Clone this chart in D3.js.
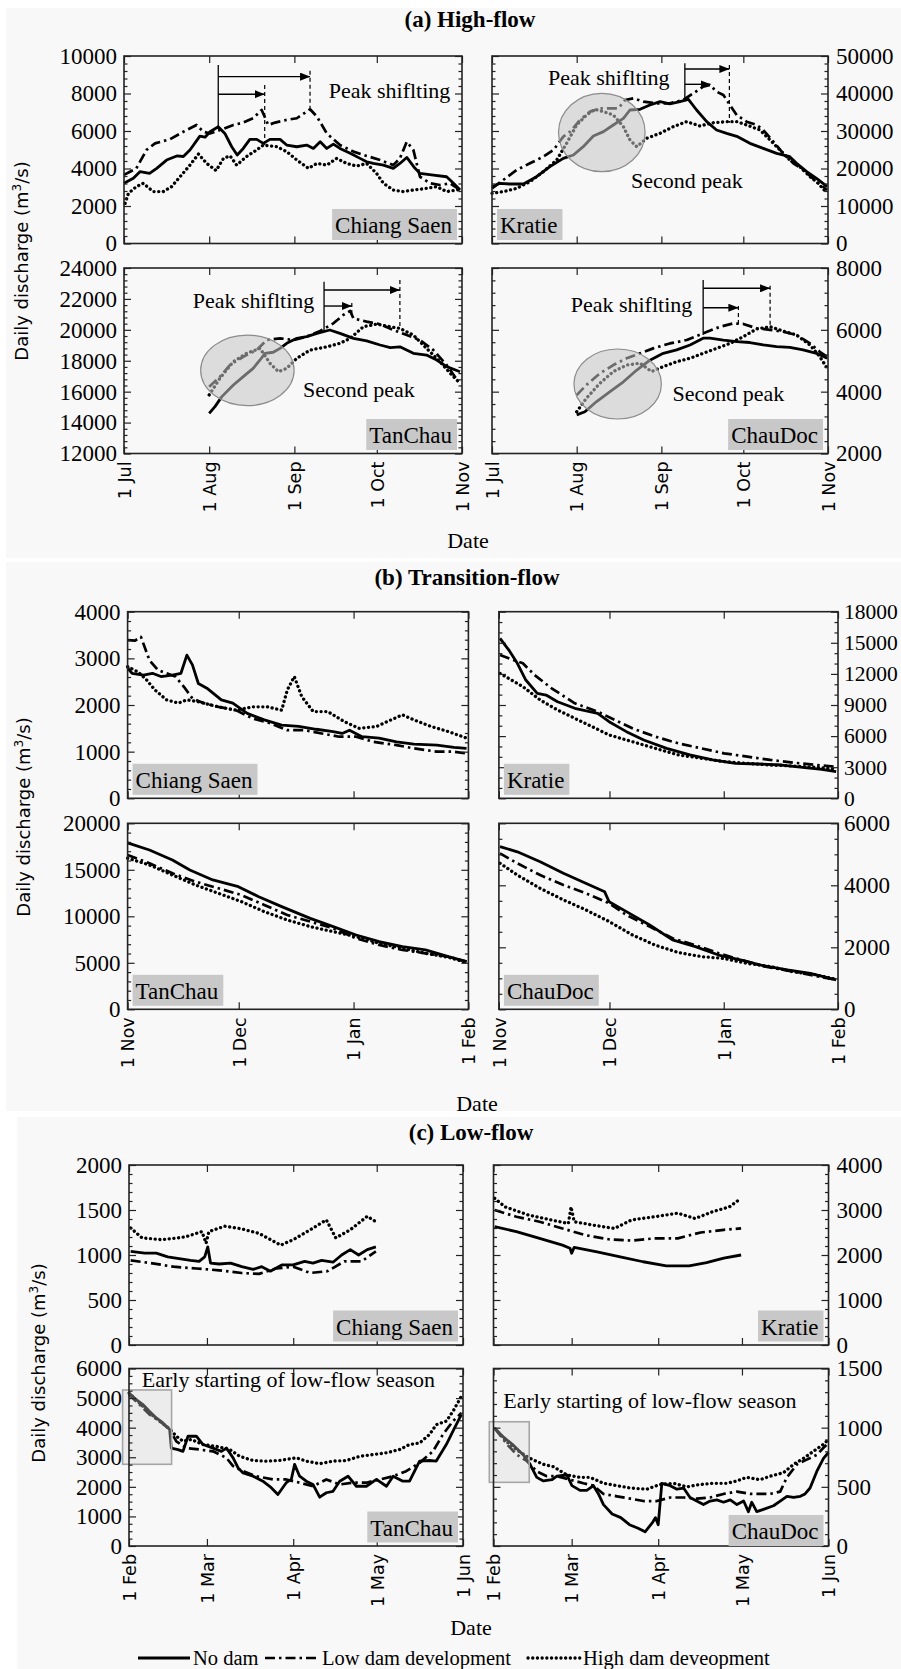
<!DOCTYPE html>
<html>
<head>
<meta charset="utf-8">
<script src="https://cdn.jsdelivr.net/npm/d3@7"></script>
<style>
  body { margin: 0; background: #fff; }
  svg { display: block; }
</style>
</head>
<body>
<svg id="chart" width="901" height="1669"></svg>
<script>
// ---- data (day offset from season start, discharge m3/s) ----
const stations = ["Chiang Saen", "Kratie", "TanChau", "ChauDoc"];
const seriesNames = ["No dam", "Low dam development", "High dam deveopment"];
const seasonTitles = ["(a) High-flow", "(b) Transition-flow", "(c) Low-flow"];

// (a) high-flow, 1 Jul - 1 Nov
const hiChiangNo = [[0,3210],[3.4,3475],[5.8,3830],[9.3,3740],[11.9,4010],[15.5,4450],[19.2,4670],[21.6,4640],[24,4990],[27.6,5730],[29.5,5670],[31.3,5960],[34.3,6230],[36.7,5870],[39.2,5160],[41.2,4720],[43.4,5070],[45.8,5555],[48.3,5555],[50.7,5340],[53.1,5555],[56.8,5555],[59.2,5250],[62.9,5160],[66.5,5250],[68.9,5070],[71.4,5430],[73.8,5070],[76.2,5300],[78.6,5070],[82.3,4810],[85.9,4540],[88.3,4360],[90.7,4270],[94.4,4180],[98,4010],[100.4,4270],[102.9,4590],[105.9,4010],[107.7,3740],[112.6,3650],[117.4,3560],[119.9,3210],[122.3,2850]];
const hiChiangLow = [[0,3660],[4.5,4010],[8.2,4990],[11.3,5340],[16.7,5560],[21.6,5960],[26.4,6320],[28.9,5960],[31.3,5870],[34.9,6050],[39.8,6320],[43.4,6450],[47,6680],[50.1,7120],[52.5,6320],[55,6450],[59.2,6590],[62.9,6680],[67.7,7160],[70.2,6770],[73.8,5870],[78.6,5250],[83.5,4900],[88.3,4670],[93.2,4450],[98,4180],[100.4,4540],[102.9,5430],[105.3,4990],[107.7,3560],[111.4,3210],[115,3120],[118.7,3210],[122.3,2850]];
const hiChiangHigh = [[0.4,2140],[1.6,2670],[4.5,3030],[7,3210],[10.6,2770],[14.3,2770],[17.3,3030],[20.4,3560],[24,4180],[27.1,4770],[30.1,4270],[33.5,3890],[36.2,4540],[38.6,4670],[41,4180],[44.6,4640],[48.3,4990],[50.7,5250],[55.6,5160],[59.2,4900],[62.9,4450],[67.1,4010],[70.2,4270],[73.8,4180],[77.4,4540],[81,4270],[84.7,4130],[88.3,4270],[91.9,3740],[94.4,3210],[98,2850],[101.6,2770],[105.3,2850],[110.1,2940],[113.8,3030],[117.4,2770],[122.3,2880]];
const hiKratieNo = [[0,15150],[2.9,16050],[6.6,15870],[11.5,15870],[16.3,17820],[21.2,20490],[26.1,22710],[29.8,23600],[33.4,25820],[37.1,28670],[40.8,29830],[44.4,31600],[48.1,33380],[50.5,35600],[54.2,35780],[57.8,36940],[61.5,37830],[65.1,37250],[68.8,37830],[71.9,38450],[74.9,35600],[78.6,32490],[82.2,30270],[85.9,29380],[89.6,28580],[94.4,26710],[99.3,25380],[104.2,24040],[109,23160],[111.5,21380],[115.2,19160],[118.8,17380],[122.7,15150]];
const hiKratieLow = [[0,14700],[4.1,16940],[9,19600],[13.9,21380],[18.8,23160],[22.5,24940],[26.1,28490],[28.6,29830],[32.2,32940],[35.9,35160],[39.5,36050],[43.2,36050],[46.3,36050],[48.7,38270],[51.7,38720],[55.4,37830],[60.3,37380],[65.1,37380],[70,38270],[73.7,40050],[77.3,41830],[79.8,42270],[82.2,40500],[84.7,39610],[87.1,36940],[89.6,34270],[93.2,32490],[96.9,31600],[99.3,30270],[103,27160],[106.6,24040],[110.3,21380],[114,19600],[118.8,16490],[122.7,14270]];
const hiKratieHigh = [[0,13380],[4.1,13820],[9,14710],[13.9,16490],[18.8,19160],[23.7,22270],[27.3,26710],[31,31600],[34.6,34270],[37.7,35780],[40.8,35160],[44.4,34270],[48.1,31160],[50.5,27600],[53,25820],[56.6,28050],[61.5,29380],[66.4,31160],[71.3,32490],[76.1,31340],[81,32200],[85.9,32490],[89.6,32490],[93.2,31600],[98.1,30270],[101.8,27600],[105.4,24940],[109,22270],[112.7,20490],[116.4,17820],[119.4,16050],[122.7,13380]];
const hiTanNo = [[31,14600],[33.1,15030],[35.6,15680],[39.8,16430],[43.4,16970],[47,17510],[49.5,18050],[51.3,18480],[54.3,18550],[56.8,18800],[59.2,19130],[62.9,19450],[66.5,19560],[70.2,19770],[74.9,19990],[78.6,19770],[83.5,19450],[88.3,19280],[93.2,19020],[96.9,18850],[100.4,18900],[105.3,18480],[110.1,18370],[113.8,18050],[117.4,17620],[122.3,17290]];
const hiTanLow = [[31,16320],[34.9,16970],[38.6,17730],[43.4,18260],[48.3,18690],[51.9,19340],[56.8,19450],[61.7,19340],[66.5,19560],[71.4,19930],[76.2,20420],[79.8,20960],[82.3,21220],[83.5,20740],[88.3,20530],[93.2,20370],[98,19990],[102.9,19660],[107.7,19340],[112.6,18690],[117.4,17730],[121.7,16650]];
const hiTanHigh = [[31,15790],[34.9,16870],[39.8,17940],[44.6,18480],[49.5,18800],[53.1,17840],[56.2,17290],[59.2,17510],[62.9,18160],[67.7,18690],[73.8,18900],[78.6,19130],[82.3,19450],[87.1,20200],[92,20370],[96.9,20200],[100.4,20090],[105.3,19660],[110.1,18800],[115,17940],[118.7,17190],[121.7,16650]];
const hiChauNo = [[31,3250],[34,3350],[38.3,3680],[43.2,4000],[48.1,4320],[53,4700],[57.8,5020],[62.7,5240],[67.6,5350],[72.5,5510],[77.3,5730],[79.8,5730],[84.7,5670],[89.6,5620],[94.4,5590],[99.3,5510],[104.2,5460],[109,5430],[113.9,5350],[118.8,5240],[122.7,5080]];
const hiChauLow = [[31,3890],[34.6,4220],[39.5,4590],[44.4,4860],[49.3,5080],[54.2,5240],[59,5400],[65.1,5560],[71.3,5670],[77.3,5890],[83.5,6100],[88.3,6210],[92,6190],[96.9,6050],[101.8,6000],[106.6,5940],[111.5,5830],[116.4,5560],[120,5290],[122.7,5130]];
const hiChauHigh = [[31,3350],[34.6,3790],[39.5,4270],[44.4,4650],[49.3,4860],[54.2,4920],[58.4,4650],[62.7,4810],[67.6,4970],[72.5,5080],[77.3,5240],[82.2,5400],[87.1,5560],[92,5780],[96.9,6030],[101.8,6100],[106.6,5960],[111.5,5830],[116.4,5510],[120,5130],[122.7,4760]];

// (b) transition-flow, 1 Nov - 1 Feb
const trChiangNo = [[0,2790],[1.2,2680],[4.3,2640],[6.7,2680],[9,2610],[12.1,2640],[14.4,2680],[16,3070],[17.5,2860],[19.1,2460],[21.4,2360],[25.3,2110],[28.4,2040],[32.3,1820],[36.9,1680],[41.6,1570],[46.2,1540],[50.9,1480],[55.5,1430],[57.9,1390],[59.9,1460],[63.3,1320],[67.9,1290],[72.6,1210],[77.3,1160],[83.5,1140],[88.1,1090],[91.5,1070]];
const trChiangLow = [[0,3390],[2,3380],[3.6,3460],[5.9,2960],[8.2,2750],[10.5,2680],[12.9,2610],[15.2,2390],[17.5,2140],[20.6,2040],[24.5,1960],[29.2,1890],[33.8,1710],[38.5,1610],[43.1,1460],[47.8,1460],[52.4,1390],[57.1,1320],[61.7,1320],[66.4,1210],[72.6,1140],[77.3,1070],[83.5,1000],[88.1,1000],[91.5,960]];
const trChiangHigh = [[0,2820],[2.8,2710],[5.1,2540],[7.4,2320],[10.5,2110],[13.7,2040],[16,2110],[19.1,2070],[24.5,1960],[29.2,1890],[33.8,1960],[37.7,1960],[41.6,1890],[43.1,2320],[45,2610],[47,2180],[50.1,1860],[54,1860],[58.6,1640],[62.5,1500],[67.2,1540],[71.1,1680],[74.2,1790],[77.3,1680],[81.9,1540],[86.6,1430],[91.5,1290]];
const trKratieNo = [[0.3,15430],[2.7,14300],[5,13020],[7.3,11410],[10.4,10120],[12.8,9960],[15.9,9320],[20.6,8680],[26.8,8200],[29.9,7390],[34.6,6430],[39.3,5620],[45.5,4820],[51.8,4180],[58,3700],[64.2,3370],[70.5,3310],[76.7,3210],[83,2960],[87.6,2800],[91.5,2570]];
const trKratieLow = [[0.3,13820],[3.4,13400],[6.5,13020],[9.7,11890],[14.3,10610],[20.6,9160],[26.8,8360],[31.5,7550],[36.2,6750],[42.4,5950],[48.7,5300],[54.9,4820],[61.1,4340],[67.4,4020],[73.6,3700],[79.8,3440],[86.1,3210],[91.5,3050]];
const trKratieHigh = [[0.3,12050],[3.4,11410],[6.5,10770],[11.2,9480],[15.9,8520],[20.6,7710],[25.3,6910],[29.9,6110],[36.2,5460],[42.4,4820],[48.7,4180],[54.9,3860],[61.1,3540],[67.4,3370],[73.6,3210],[79.8,3120],[86.1,2990],[91.5,2800]];
const trTanNo = [[0,17900],[5.9,17130],[12.1,16060],[16.8,14980],[23,13910],[29.9,13190],[35.4,12110],[41.6,11040],[49.3,9780],[55.5,8890],[61.7,7990],[67.9,7280],[74.2,6740],[80.4,6380],[86.6,5660],[91.5,5130]];
const trTanLow = [[0,16590],[5.9,15700],[12.1,14620],[18.3,13730],[24.5,13010],[30.7,12290],[36.9,11220],[43.1,10140],[49.3,9430],[55.5,8710],[61.7,7630],[67.9,6920],[74.2,6380],[80.4,6020],[86.6,5660],[91.5,5130]];
const trTanHigh = [[0,16240],[5.9,15520],[12.1,14440],[18.3,13370],[24.5,12470],[30.7,11580],[36.9,10500],[43.1,9600],[49.3,8890],[55.5,8350],[61.7,7810],[67.9,7100],[74.2,6560],[80.4,6020],[86.6,5590],[91.5,5020]];
const trChauNo = [[0.3,5250],[5,5080],[11.2,4760],[17.5,4390],[23.7,4060],[28.7,3790],[29.9,3470],[34.6,3150],[40.9,2720],[47.1,2240],[53.3,2020],[59.6,1750],[65.8,1590],[72,1400],[78.3,1270],[84.5,1160],[91.5,950]];
const trChauLow = [[0.3,5030],[5,4710],[11.2,4330],[17.5,4010],[23.7,3740],[29.9,3420],[34.6,3040],[40.9,2670],[47.1,2290],[53.3,2070],[59.6,1810],[65.8,1590],[72,1380],[78.3,1250],[84.5,1110],[91.5,950]];
const trChauHigh = [[0.3,4710],[5,4330],[11.2,3900],[17.5,3530],[23.7,3200],[29.9,2830],[36.2,2400],[42.4,2070],[48.7,1830],[54.9,1700],[61.1,1640],[67.4,1480],[73.6,1380],[79.8,1210],[86.1,1110],[91.5,970]];

// (c) low-flow, 1 Feb - 1 Jun
const loChiangNo = [[0.6,1040],[5.7,1020],[9.8,1020],[13.9,980],[18,960],[22.1,940],[25.2,930],[27.2,980],[28.3,1090],[29.3,910],[32.4,900],[36.5,910],[40.5,870],[44.6,840],[47.7,870],[50.8,820],[54.9,890],[59,890],[63.1,930],[66.1,910],[69.2,940],[73.3,920],[76.4,1000],[79.5,1060],[82.5,1000],[85.6,1060],[88.7,1090]];
const loChiangLow = [[0.6,940],[7.8,910],[16,870],[24.2,850],[32.4,830],[40.5,800],[46.7,790],[52.8,850],[59,870],[65.1,800],[71.3,820],[77.4,930],[83.6,930],[88.7,1040]];
const loChiangHigh = [[0.6,1300],[4.7,1190],[11.9,1170],[20.1,1200],[26.2,1260],[27.7,1130],[28.7,1260],[34.4,1320],[40.5,1290],[46.7,1240],[54.5,1110],[59,1170],[65.1,1280],[70.9,1390],[74.3,1190],[79.5,1280],[85.6,1430],[88.7,1370]];
const loKratieNo = [[0.4,2630],[8.2,2520],[16.5,2370],[24.7,2220],[27.4,2150],[28,2040],[28.9,2170],[37.1,2070],[45.4,1960],[53.6,1850],[61.9,1760],[70.1,1760],[76.3,1830],[82.5,1930],[88.7,2000]];
const loKratieLow = [[0.4,3000],[8.2,2850],[16.5,2740],[24.7,2590],[33,2440],[41.2,2350],[49.5,2320],[57.7,2370],[66,2370],[74.2,2500],[82.5,2560],[88.7,2590]];
const loKratieHigh = [[0.4,3260],[4.1,3070],[12.4,2890],[20.6,2780],[26.8,2700],[27.8,3070],[28.9,2740],[35.1,2670],[43.3,2590],[49.5,2780],[57.7,2850],[66,2930],[72.2,2810],[78.4,2960],[84.5,3070],[88.7,3260]];
const loTanNo = [[0,5170],[2.6,4950],[5,4780],[7.4,4550],[9.8,4330],[12.2,4160],[14.6,3940],[15.2,3310],[17.6,3260],[19.4,3200],[21.2,3710],[24.2,3710],[26.6,3430],[30.2,3310],[33.2,3200],[35,3310],[37.4,2980],[39.2,2640],[41,2470],[44.6,2360],[48.1,2190],[51.1,1970],[53.5,1740],[56.5,2140],[58.3,2250],[59.5,2760],[61.3,2360],[63.7,2190],[66.1,2080],[68.5,1650],[70.9,1800],[73.3,1850],[75.7,2190],[78.7,2360],[81.7,2020],[85.3,2020],[88.9,2250],[92.5,2020],[94.9,2360],[98.4,2190],[100.8,2190],[104.4,2870],[108,2890],[110.4,2870],[114,3430],[116.4,3880],[119.4,4440]];
const loTanLow = [[0,5120],[3.8,4780],[7.4,4440],[11,4220],[14.6,3940],[17,3540],[20.6,3310],[25.4,3260],[30.2,3200],[35,2980],[37.4,2700],[41,2530],[45.7,2360],[51.7,2250],[56.5,2250],[61.3,2140],[66.1,2020],[70.9,2250],[75.7,2080],[80.5,2140],[85.3,2140],[90.1,2250],[94.9,2360],[99.6,2530],[104.4,2810],[109.2,3200],[112.8,3770],[116.4,4220],[119.4,4500]];
const loTanHigh = [[0,5170],[3.8,4830],[7.4,4500],[11,4220],[14.6,3960],[17,3710],[19.4,3540],[22.4,3600],[26.6,3430],[31.4,3370],[36.2,3260],[39.8,3030],[44.6,2890],[49.3,2870],[54.1,2890],[60.1,2980],[63.7,2870],[68.5,2780],[73.3,2870],[78.1,2890],[82.9,3030],[87.7,3090],[92.5,3150],[97.2,3260],[100.8,3430],[104.4,3480],[108,3770],[110.4,4100],[114,4220],[116.4,4550],[119.4,5060]];
const loChauNo = [[0.6,990],[3.6,920],[7.2,850],[10.7,770],[13.1,690],[15.5,580],[17.9,550],[20.9,560],[22.7,590],[26.3,600],[28.1,510],[31,470],[33.4,470],[35.8,510],[37.6,440],[39.4,350],[42.5,270],[45.6,240],[48.7,180],[51.8,150],[54.3,120],[57,200],[58,240],[59,180],[60,450],[60.3,530],[63.3,510],[65.7,480],[68.1,490],[70.4,410],[72.8,380],[75.2,350],[77.6,380],[80,390],[82.4,370],[84.8,390],[87.2,350],[89.6,380],[91.3,290],[92.5,370],[94.3,290],[96.7,310],[100.3,340],[102.7,380],[105.1,420],[107.5,410],[109.9,420],[111.6,440],[113.4,490],[115.8,630],[118.2,740],[120,790]];
const loChauLow = [[0.6,990],[4.8,860],[8.4,770],[11.9,720],[15.5,630],[19.1,590],[22.7,590],[27.5,560],[32.2,530],[35.8,510],[39.4,440],[44.2,420],[49,400],[53.7,380],[58.5,380],[63.3,410],[68.1,410],[72.8,400],[77.6,410],[82.4,440],[87.2,460],[91.9,440],[95.5,440],[99.1,440],[102.7,460],[105.1,580],[108.7,690],[112.2,730],[115.8,770],[118.2,830],[120,870]];
const loChauHigh = [[0.6,990],[4.8,880],[8.4,810],[13.1,740],[17.9,690],[21.5,670],[26.3,600],[31,580],[34.6,580],[39.4,530],[44.2,510],[49,490],[54.9,480],[59.7,520],[64.5,530],[69.3,500],[74,520],[78.8,530],[83.6,530],[87.2,550],[90.7,580],[95.5,560],[99.1,590],[103.9,620],[107.5,690],[111,740],[114.6,800],[118.2,860],[120,900]];

// y tick labels
const ticksHiChiang = [0, 2000, 4000, 6000, 8000, 10000];
const ticksHiKratie = [0, 10000, 20000, 30000, 40000, 50000];
const ticksHiTan = [12000, 14000, 16000, 18000, 20000, 22000, 24000];
const ticksHiChau = [2000, 4000, 6000, 8000];
const ticksTrChiang = [0, 1000, 2000, 3000, 4000];
const ticksTrKratie = [0, 3000, 6000, 9000, 12000, 15000, 18000];
const ticksTrTan = [0, 5000, 10000, 15000, 20000];
const ticksTrChau = [0, 2000, 4000, 6000];
const ticksLoChiang = [0, 500, 1000, 1500, 2000];
const ticksLoKratie = [0, 1000, 2000, 3000, 4000];
const ticksLoTan = [0, 1000, 2000, 3000, 4000, 5000, 6000];
const ticksLoChau = [0, 500, 1000, 1500];

// annotations (day, discharge)
const annHiChiang = { peak: [34.3, 9520, 6230], shifts: [{ v: 8900, to: 67.7, dash: [9215, 7210] }, { v: 7960, to: 51.2, dash: [8450, 5160] }], label: [74.5, 7740] };
const annHiKratie = { peak: [70.6, 48050, 38450], shifts: [{ v: 46530, to: 86.9, dash: [47600, 32210] }, { v: 42450, to: 80, dash: null }], label: [20.5, 42270], second: [50.9, 14720], circle: [40.2, 29600, 15.85, 10450] };
const annHiTan = { peak: [72.8, 23110, 19920], shifts: [{ v: 22580, to: 100.4, dash: [23220, 20050] }, { v: 21540, to: 82.9, dash: [21730, 20960] }], label: [25, 21390], second: [65.1, 15670], circle: [44.9, 17380, 17, 2283] };
const annHiChau = { peak: [77.3, 7611, 5832], shifts: [{ v: 7343, to: 101.8, dash: [7427, 6101] }, { v: 6715, to: 90.2, dash: [6770, 6155] }], label: [28.8, 6576], second: [66.1, 3698], circle: [46, 4248, 16, 1132] };
const annLoTan = { early: [4.6, 5385], box: [-2.3, 15.3, 5274, 2762] };
const annLoChau = { early: [3.5, 1164], box: [-1.5, 12.8, 1050, 538] };

// ---- layout ----
const seasons = [
  { start: Date.UTC(2001, 6, 1), end: Date.UTC(2001, 10, 1), titleY: 27, titleX: 470, dateX: 468, dateY: 548, ytX: 28, ytY: 261 },
  { start: Date.UTC(2001, 10, 1), end: Date.UTC(2002, 1, 1), titleY: 585, titleX: 467, dateX: 477, dateY: 1111, ytX: 30, ytY: 817 },
  { start: Date.UTC(2002, 1, 1), end: Date.UTC(2002, 5, 1), titleY: 1140, titleX: 471, dateX: 471, dateY: 1635, ytX: 45, ytY: 1363 }
];

const panels = [
  { s: 0, st: 0, x0: 124, x1: 462, y0: 56, y1: 243.5, ticks: ticksHiChiang, minor: 5, side: "left", tag: "br", xlab: false, data: [hiChiangNo, hiChiangLow, hiChiangHigh], ann: annHiChiang },
  { s: 0, st: 1, x0: 492, x1: 828, y0: 56, y1: 243.5, ticks: ticksHiKratie, minor: 5, side: "right", tag: "bl", xlab: false, data: [hiKratieNo, hiKratieLow, hiKratieHigh], ann: annHiKratie },
  { s: 0, st: 2, x0: 124, x1: 462, y0: 268, y1: 453.5, ticks: ticksHiTan, minor: 5, side: "left", tag: "br", xlab: true, data: [hiTanNo, hiTanLow, hiTanHigh], ann: annHiTan },
  { s: 0, st: 3, x0: 492, x1: 828, y0: 268, y1: 453.5, ticks: ticksHiChau, minor: 5, side: "right", tag: "br", xlab: true, data: [hiChauNo, hiChauLow, hiChauHigh], ann: annHiChau },
  { s: 1, st: 0, x0: 127.6, x1: 468.4, y0: 611.7, y1: 798.3, ticks: ticksTrChiang, minor: 5, side: "left", tag: "bl", xlab: false, data: [trChiangNo, trChiangLow, trChiangHigh] },
  { s: 1, st: 1, x0: 498.9, x1: 838, y0: 611.7, y1: 798.3, ticks: ticksTrKratie, minor: 3, side: "right", tag: "bl", xlab: false, data: [trKratieNo, trKratieLow, trKratieHigh], tickFont: 21.5, tickPad: 6 },
  { s: 1, st: 2, x0: 127.6, x1: 468.4, y0: 823.3, y1: 1009.3, ticks: ticksTrTan, minor: 5, side: "left", tag: "bl", xlab: true, data: [trTanNo, trTanLow, trTanHigh] },
  { s: 1, st: 3, x0: 498.9, x1: 838, y0: 823.3, y1: 1009.3, ticks: ticksTrChau, minor: 4, side: "right", tag: "bl", xlab: true, data: [trChauNo, trChauLow, trChauHigh], tickPad: 6 },
  { s: 2, st: 0, x0: 129, x1: 463, y0: 1165, y1: 1345, ticks: ticksLoChiang, minor: 5, side: "left", tag: "br", xlab: false, data: [loChiangNo, loChiangLow, loChiangHigh] },
  { s: 2, st: 1, x0: 493.5, x1: 828.5, y0: 1165, y1: 1345, ticks: ticksLoKratie, minor: 5, side: "right", tag: "br", xlab: false, data: [loKratieNo, loKratieLow, loKratieHigh] },
  { s: 2, st: 2, x0: 129, x1: 463, y0: 1368.5, y1: 1546, ticks: ticksLoTan, minor: 4, side: "left", tag: "br", xlab: true, data: [loTanNo, loTanLow, loTanHigh], ann: annLoTan },
  { s: 2, st: 3, x0: 493.5, x1: 828.5, y0: 1368.5, y1: 1546, ticks: ticksLoChau, minor: 5, side: "right", tag: "br", tagBottom: 0, xlab: true, data: [loChauNo, loChauLow, loChauHigh], ann: annLoChau }
];

const lineStyles = [
  { dash: null, cap: "butt", w: 2.8 },
  { dash: "10,4,2.5,4", cap: "butt", w: 2.7 },
  { dash: "0.1,4.6", cap: "round", w: 3.3 }
];

const SERIF = "'Liberation Serif', 'Times New Roman', serif";
const SANS = "'DejaVu Sans', Verdana, sans-serif";
const INK = "#222";

const svg = d3.select("#chart");

// section backgrounds
[[6, 8, 550], [6, 562, 549], [17, 1117, 552]].forEach(([bx, by, bh]) => {
  svg.append("rect").attr("x", bx).attr("y", by).attr("width", 901 - bx).attr("height", bh).attr("fill", "#f8f8f8");
});

svg.append("defs").append("marker")
  .attr("id", "arrow").attr("viewBox", "0 0 10 8").attr("refX", 10).attr("refY", 4)
  .attr("markerWidth", 10).attr("markerHeight", 8).attr("markerUnits", "userSpaceOnUse").attr("orient", "auto")
  .append("path").attr("d", "M0,0L10,4L0,8Z").attr("fill", "#000");

const dayDate = (s, d) => new Date(s.start + d * 864e5);

panels.forEach(p => {
  const s = seasons[p.s];
  const x = d3.scaleUtc().domain([new Date(s.start), new Date(s.end)]).range([p.x0, p.x1]);
  const y = d3.scaleLinear().domain(d3.extent(p.ticks)).range([p.y1, p.y0]);
  const xd = d => x(dayDate(s, d));
  const g = svg.append("g");

  // --- series ---
  const line = d3.line().x(d => xd(d[0])).y(d => y(d[1]));
  p.data.forEach((ser, i) => {
    const st = lineStyles[i];
    g.append("path").datum(ser)
      .attr("d", line)
      .attr("fill", "none")
      .attr("stroke", "#000")
      .attr("stroke-width", st.w)
      .attr("stroke-dasharray", st.dash)
      .attr("stroke-linecap", st.cap)
      .attr("stroke-linejoin", "round");
  });

  // --- annotations ---
  const a = p.ann;
  if (a && a.circle) {
    const [cd, cv, rd, rv] = a.circle;
    g.append("ellipse")
      .attr("cx", xd(cd)).attr("cy", y(cv))
      .attr("rx", xd(cd + rd) - xd(cd)).attr("ry", y(cv - rv) - y(cv))
      .attr("fill", "#c4c4c4").attr("fill-opacity", 0.55)
      .attr("stroke", "#8c8c8c").attr("stroke-width", 1.2);
  }
  if (a && a.peak) {
    const px = xd(a.peak[0]);
    g.append("line").attr("x1", px).attr("x2", px).attr("y1", y(a.peak[1])).attr("y2", y(a.peak[2]))
      .attr("stroke", "#000").attr("stroke-width", 1.3);
    a.shifts.forEach(sh => {
      g.append("line").attr("x1", px).attr("x2", xd(sh.to)).attr("y1", y(sh.v)).attr("y2", y(sh.v))
        .attr("stroke", "#000").attr("stroke-width", 1.4).attr("marker-end", "url(#arrow)");
      if (sh.dash) {
        g.append("line").attr("x1", xd(sh.to)).attr("x2", xd(sh.to)).attr("y1", y(sh.dash[0])).attr("y2", y(sh.dash[1]))
          .attr("stroke", "#000").attr("stroke-width", 1.2).attr("stroke-dasharray", "4,3");
      }
    });
    g.append("text").attr("x", xd(a.label[0])).attr("y", y(a.label[1]))
      .style("font-family", SERIF).style("font-size", "22px").text("Peak shiflting");
    if (a.second) {
      g.append("text").attr("x", xd(a.second[0])).attr("y", y(a.second[1]))
        .style("font-family", SERIF).style("font-size", "22px").text("Second peak");
    }
  }
  if (a && a.box) {
    const [d0, d1, v0, v1] = a.box;
    g.append("rect").attr("x", xd(d0)).attr("y", y(v0)).attr("width", xd(d1) - xd(d0)).attr("height", y(v1) - y(v0))
      .attr("fill", "#d6d6d6").attr("fill-opacity", 0.35).attr("stroke", "#a6a6a6").attr("stroke-width", 1.6);
    g.append("text").attr("x", xd(a.early[0])).attr("y", y(a.early[1]))
      .style("font-family", SERIF).style("font-size", "22px").text("Early starting of low-flow season");
  }

  // --- axes ---
  const months = d3.utcMonth.range(new Date(s.start), new Date(s.end + 1));
  const minorVals = [];
  for (let i = 0; i < p.ticks.length - 1; i++) {
    for (let k = 1; k < p.minor; k++) minorVals.push(p.ticks[i] + (p.ticks[i + 1] - p.ticks[i]) * k / p.minor);
  }
  const tickFont = (p.tickFont || 23) + "px";
  const styleAxis = sel => {
    sel.select(".domain").remove();
    sel.selectAll(".tick line").attr("stroke", INK).attr("stroke-width", 1.2);
    sel.selectAll("text").attr("fill", "#000").style("font-family", SERIF).style("font-size", tickFont);
  };

  const xb = g.append("g").attr("transform", `translate(0,${p.y1})`)
    .call(d3.axisBottom(x).tickValues(months).tickSize(-7).tickFormat(p.xlab ? d3.utcFormat("%-d %b") : ""))
    .call(styleAxis);
  if (p.xlab) {
    xb.selectAll("text")
      .attr("transform", "rotate(-90)")
      .attr("text-anchor", "end")
      .attr("x", -8).attr("y", 0).attr("dy", "0.36em")
      .style("font-family", SANS).style("font-size", "17.5px");
  }
  g.append("g").attr("transform", `translate(0,${p.y0})`)
    .call(d3.axisTop(x).tickValues(months).tickSize(-7).tickFormat(""))
    .call(styleAxis);

  g.append("g").attr("transform", `translate(${p.x0},0)`)
    .call(d3.axisLeft(y).tickValues(p.ticks).tickSize(-7).tickPadding(7).tickFormat(p.side === "left" ? d3.format("d") : ""))
    .call(styleAxis);
  g.append("g").attr("transform", `translate(${p.x1},0)`)
    .call(d3.axisRight(y).tickValues(p.ticks).tickSize(-7).tickPadding(p.tickPad || 8).tickFormat(p.side === "right" ? d3.format("d") : ""))
    .call(styleAxis);
  g.append("g").attr("transform", `translate(${p.x0},0)`)
    .call(d3.axisLeft(y).tickValues(minorVals).tickSize(-3.5).tickFormat(""))
    .call(styleAxis);
  g.append("g").attr("transform", `translate(${p.x1},0)`)
    .call(d3.axisRight(y).tickValues(minorVals).tickSize(-3.5).tickFormat(""))
    .call(styleAxis);

  g.append("rect").attr("x", p.x0).attr("y", p.y0).attr("width", p.x1 - p.x0).attr("height", p.y1 - p.y0)
    .attr("fill", "none").attr("stroke", INK).attr("stroke-width", 1.6);

  // --- station tag ---
  const tag = g.append("g");
  const tt = tag.append("text").style("font-family", SERIF).style("font-size", "23px").text(stations[p.st]);
  const tw = tt.node().getComputedTextLength();
  const bw = tw + 8, bh = 31;
  const bottom = p.y1 - (p.tagBottom !== undefined ? p.tagBottom : 3.5);
  const left = p.tag === "br" ? p.x1 - 5 - bw : p.x0 + 5;
  tag.insert("rect", "text").attr("x", left).attr("y", bottom - bh).attr("width", bw).attr("height", bh).attr("fill", "#c8c8c8");
  tt.attr("x", left + 3).attr("y", bottom - 7);
});

// --- section titles, date labels, y titles ---
seasons.forEach((s, i) => {
  svg.append("text").attr("x", s.titleX).attr("y", s.titleY).attr("text-anchor", "middle")
    .style("font-family", SERIF).style("font-size", "23px").style("font-weight", "bold").text(seasonTitles[i]);
  svg.append("text").attr("x", s.dateX).attr("y", s.dateY).attr("text-anchor", "middle")
    .style("font-family", SERIF).style("font-size", "22px").text("Date");
  const yt = svg.append("text").attr("transform", `translate(${s.ytX},${s.ytY}) rotate(-90)`).attr("text-anchor", "middle")
    .style("font-family", SANS).style("font-size", "18px");
  yt.append("tspan").text("Daily discharge (m");
  yt.append("tspan").attr("dy", -7).style("font-size", "12px").text("3");
  yt.append("tspan").attr("dy", 7).text("/s)");
});

// --- legend ---
const legendX = [[138, 190, 193], [265, 319, 322], [528, 580, 583]];
seriesNames.forEach((name, i) => {
  const st = lineStyles[i];
  const [l0, l1, tx] = legendX[i];
  svg.append("line").attr("x1", l0).attr("x2", l1).attr("y1", 1658).attr("y2", 1658)
    .attr("stroke", "#000").attr("stroke-width", st.w).attr("stroke-dasharray", st.dash).attr("stroke-linecap", st.cap);
  svg.append("text").attr("x", tx).attr("y", 1665).style("font-family", SERIF).style("font-size", "20.5px").text(name);
});
</script>
</body>
</html>
